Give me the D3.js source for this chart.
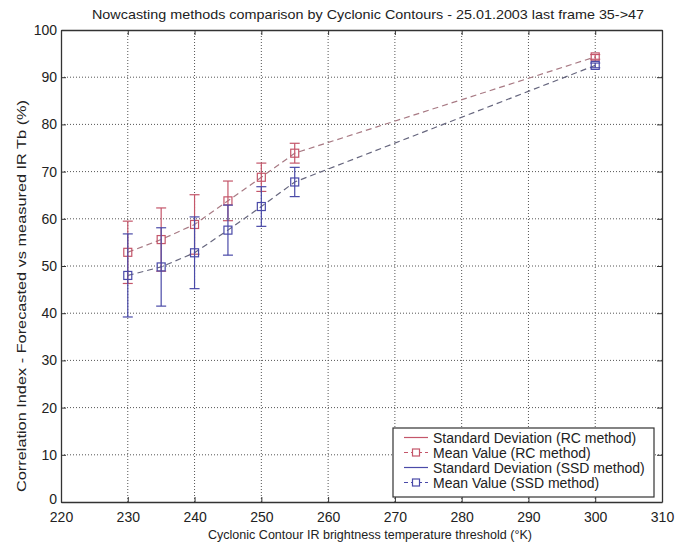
<!DOCTYPE html>
<html>
<head>
<meta charset="utf-8">
<script src="https://cdn.jsdelivr.net/npm/d3@7"></script>
<style>
  body { margin: 0; background: #fff; }
  text { font-family: "Liberation Sans", Arial, sans-serif; fill: #222; }
</style>
</head>
<body>
<svg id="chart" width="688" height="544"></svg>
<script>
// thresholds (K)
var thresholds = [230, 235, 240, 245, 250, 255, 300];
// RC method
var rcMean = [52.9, 55.6, 58.8, 63.8, 68.8, 73.9, 94.3];
var rcStd  = [6.6, 6.7, 6.3, 4.2, 3.0, 2.1, 0.5];
// SSD method
var ssdMean = [48.0, 49.8, 52.8, 57.6, 62.6, 67.8, 92.5];
var ssdStd  = [8.8, 8.3, 7.6, 5.3, 4.2, 3.1, 0.5];

var xTicks = [220, 230, 240, 250, 260, 270, 280, 290, 300, 310];
var yTicks = [0, 10, 20, 30, 40, 50, 60, 70, 80, 90, 100];
var legendLabels = ["Standard Deviation (RC method)", "Mean Value (RC method)",
                    "Standard Deviation (SSD method)", "Mean Value (SSD method)"];

var margin = {left: 61, top: 30, right: 26, bottom: 42};
var W = 688, H = 544;
var w = W - margin.left - margin.right, h = H - margin.top - margin.bottom;

var svg = d3.select("#chart");
var g = svg.append("g").attr("transform", "translate(" + margin.left + "," + margin.top + ")");

var x = d3.scaleLinear().domain([220, 310]).range([0, w]);
var y = d3.scaleLinear().domain([0, 100]).range([h, 0]);

var redC = "#c4566a", blueC = "#4a4aa8";
var redDash = "#a87a84", blueDash = "#66667e";

// grid
g.selectAll(".gx").data(xTicks.slice(1, -1)).enter().append("line")
  .attr("x1", x).attr("x2", x).attr("y1", 0).attr("y2", h)
  .attr("stroke", "#555").attr("stroke-width", 1).attr("stroke-dasharray", "1,2");
g.selectAll(".gy").data(yTicks.slice(1, -1)).enter().append("line")
  .attr("y1", y).attr("y2", y).attr("x1", 0).attr("x2", w)
  .attr("stroke", "#555").attr("stroke-width", 1).attr("stroke-dasharray", "1,2");

// axes
var xAxis = d3.axisBottom(x).tickValues(xTicks).tickSizeInner(-5).tickSizeOuter(0).tickPadding(10);
var yAxis = d3.axisLeft(y).tickValues(yTicks).tickSizeInner(-5).tickSizeOuter(0).tickPadding(4);
var xa = g.append("g").attr("transform", "translate(0," + h + ")").call(xAxis);
var ya = g.append("g").call(yAxis);
var xaTop = g.append("g").call(d3.axisTop(x).tickValues(xTicks).tickSizeInner(-5).tickSizeOuter(0).tickFormat(""));
var yaRight = g.append("g").attr("transform", "translate(" + w + ",0)")
  .call(d3.axisRight(y).tickValues(yTicks).tickSizeInner(-5).tickSizeOuter(0).tickFormat(""));
[xa, ya, xaTop, yaRight].forEach(function(a) {
  a.select(".domain").attr("stroke", "#333").attr("stroke-width", 1.3);
  a.selectAll(".tick line").attr("stroke", "#333");
  a.selectAll(".tick text").style("font-size", "14px").style("font-family", "Liberation Sans, Arial, sans-serif").attr("fill", "#222");
});
// the "0" label sits a bit above the corner, as in the original
ya.selectAll(".tick text").filter(function(d) { return d === 0; }).attr("dy", "0.1em");

// series
function drawSeries(mean, std, ecol, dcol) {
  var pts = thresholds.map(function(t, i) { return {x: t, m: mean[i], s: std[i]}; });
  var line = d3.line().x(function(d) { return x(d.x); }).y(function(d) { return y(d.m); });
  g.append("path").datum(pts).attr("d", line).attr("fill", "none")
    .attr("stroke", dcol).attr("stroke-width", 1.2).attr("stroke-dasharray", "6,4");
  var eb = g.selectAll(null).data(pts).enter().append("g").attr("stroke", ecol).attr("stroke-width", 1.2);
  eb.append("line").attr("x1", function(d) { return x(d.x); }).attr("x2", function(d) { return x(d.x); })
    .attr("y1", function(d) { return y(d.m - d.s); }).attr("y2", function(d) { return y(d.m + d.s); });
  eb.append("line").attr("x1", function(d) { return x(d.x) - 5; }).attr("x2", function(d) { return x(d.x) + 5; })
    .attr("y1", function(d) { return y(d.m + d.s); }).attr("y2", function(d) { return y(d.m + d.s); });
  eb.append("line").attr("x1", function(d) { return x(d.x) - 5; }).attr("x2", function(d) { return x(d.x) + 5; })
    .attr("y1", function(d) { return y(d.m - d.s); }).attr("y2", function(d) { return y(d.m - d.s); });
  g.selectAll(null).data(pts).enter().append("rect")
    .attr("x", function(d) { return x(d.x) - 4; }).attr("y", function(d) { return y(d.m) - 4; })
    .attr("width", 8).attr("height", 8).attr("fill", "none").attr("stroke", ecol).attr("stroke-width", 1.2);
}
drawSeries(rcMean, rcStd, redC, redDash);
drawSeries(ssdMean, ssdStd, blueC, blueDash);

// title & labels
svg.append("text").attr("x", 368).attr("y", 19).attr("text-anchor", "middle")
  .attr("textLength", 552).attr("lengthAdjust", "spacingAndGlyphs")
  .style("font-size", "13.5px").text("Nowcasting methods comparison by Cyclonic Contours - 25.01.2003 last frame 35->47");
svg.append("text").attr("x", 370).attr("y", 539).attr("text-anchor", "middle")
  .attr("textLength", 324).attr("lengthAdjust", "spacingAndGlyphs")
  .style("font-size", "13px").text("Cyclonic Contour IR brightness temperature threshold (°K)");
svg.append("text").attr("transform", "translate(26,296) rotate(-90)")
  .attr("text-anchor", "middle").attr("textLength", 392).attr("lengthAdjust", "spacingAndGlyphs")
  .style("font-size", "13px")
  .text("Correlation Index - Forecasted vs measured IR Tb (%)");

// legend
var lg = svg.append("g").attr("transform", "translate(393,428)");
lg.append("rect").attr("width", 261).attr("height", 69).attr("fill", "#fff").attr("stroke", "#333").attr("stroke-width", 1.2);
var lcol = [redC, redC, blueC, blueC];
legendLabels.forEach(function(t, i) {
  var yy = 9.5 + i * 15;
  var isMean = i % 2 === 1;
  lg.append("line").attr("x1", 11).attr("x2", 35).attr("y1", yy).attr("y2", yy)
    .attr("stroke", lcol[i]).attr("stroke-width", 1.2).attr("stroke-dasharray", isMean ? "4,3" : null);
  if (isMean) {
    lg.append("rect").attr("x", 19.5).attr("y", yy - 3.5).attr("width", 7).attr("height", 7)
      .attr("fill", "#fff").attr("stroke", lcol[i]).attr("stroke-width", 1.2);
  }
  lg.append("text").attr("x", 40).attr("y", yy + 5).style("font-size", "14px").text(t);
});
</script>
</body>
</html>
